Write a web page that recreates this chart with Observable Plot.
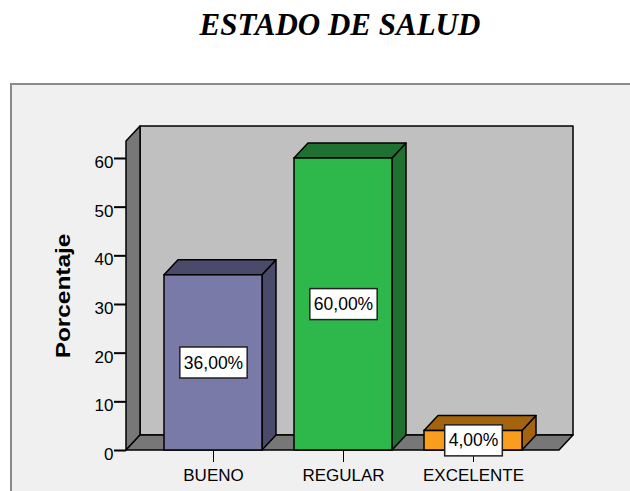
<!DOCTYPE html>
<html>
<head>
<meta charset="utf-8">
<script src="https://cdn.jsdelivr.net/npm/d3@7"></script>
<script src="https://cdn.jsdelivr.net/npm/@observablehq/plot@0.6"></script>
<style>
  html, body { margin: 0; padding: 0; background: #ffffff; }
  #title {
    box-sizing: border-box; height: 83px; padding-top: 9px; padding-left: 50px;
    text-align: center; font: italic bold 31px/31px "Liberation Serif", "Times New Roman", serif; color: #000;
  }
  #panel {
    margin-left: 10px; width: 618px; height: 406px; background: #f0f0f0;
    border-top: 2px solid #8a8a8a; border-left: 2px solid #8a8a8a; overflow: hidden;
  }
</style>
</head>
<body>
<div id="title">ESTADO DE SALUD</div>
<div id="panel"></div>
<script>
// ---- data ----
const categories = ["BUENO", "REGULAR", "EXCELENTE"];
const percentages = [36, 60, 4];
const yTicks = [0, 10, 20, 30, 40, 50, 60];
const axisTitle = "Porcentaje";

// ---- styles ----
const frontColors = ["#7a7aa8", "#2eb84c", "#f89d1e"];
const darkColors = ["#4a4a6a", "#1e7131", "#a4640f"];
const DX = 14, DY = -15;

const data = categories.map((c, i) => ({cat: c, value: percentages[i], i}));
const fmt = v => v.toFixed(2).replace(".", ",") + "%";

function poly(g, pts, fill) {
  g.append("path")
    .attr("d", "M" + pts.map(p => p.join(",")).join("L") + "Z")
    .attr("fill", fill).attr("stroke", "#000").attr("stroke-width", 1.5)
    .attr("stroke-linejoin", "round");
}

// walls and floor of the 3D box
function walls(index, scales, values, dims) {
  const y = scales.y;
  const g = d3.create("svg:g").attr("aria-label", "walls");
  const x0 = dims.marginLeft, x1 = dims.width - dims.marginRight;
  const yb = y(0), yt = dims.marginTop;
  poly(g, [[x0 + DX, yt + DY], [x1 + DX, yt + DY], [x1 + DX, yb + DY], [x0 + DX, yb + DY]], "#c0c0c0");
  poly(g, [[x0, yb], [x0, yt], [x0 + DX, yt + DY], [x0 + DX, yb + DY]], "#777777");
  poly(g, [[x0, yb], [x1, yb], [x1 + DX, yb + DY], [x0 + DX, yb + DY]], "#777777");
  return g.node();
}

// top and side faces of each bar
function barDepth(index, scales, values, dims) {
  const {x, y} = scales;
  const bw = x.bandwidth();
  const g = d3.create("svg:g").attr("aria-label", "bar depth");
  data.forEach(d => {
    const xl = x(d.cat), xr = xl + bw, yt = y(d.value), yb = y(0);
    poly(g, [[xr, yb], [xr, yt], [xr + DX, yt + DY], [xr + DX, yb + DY]], darkColors[d.i]);
    poly(g, [[xl, yt], [xr, yt], [xr + DX, yt + DY], [xl + DX, yt + DY]], darkColors[d.i]);
  });
  return g.node();
}

const chart = Plot.plot({
  width: 618,
  height: 406,
  marginTop: 56,
  marginBottom: 41,
  marginLeft: 114,
  marginRight: 71,
  style: {background: "transparent", fontFamily: "'Liberation Sans', Arial, sans-serif", fontSize: "17px", color: "#000", overflow: "visible"},
  x: {domain: categories, paddingInner: 0.249, paddingOuter: 0.2835, align: 0.5, label: null, tickSize: 12, tickPadding: 6},
  y: {domain: [0, 63.49], label: null},
  marks: [
    walls,
    barDepth,
    Plot.axisY({ticks: yTicks, tickSize: 12, tickFormat: () => "", label: null, stroke: "#000", strokeWidth: 2}),
    Plot.axisY({ticks: yTicks, tickSize: 0, tickPadding: 13, dy: 4, label: null, fontSize: 17, fill: "#000"}),
    Plot.barY(data, {x: "cat", y: "value", fill: d => frontColors[d.i], stroke: "#000", strokeWidth: 1.5, inset: 0}),
    Plot.text(data, {x: "cat", y: d => d.value / 2, text: d => fmt(d.value), fontSize: 17.5, fill: "#000"}),
    Plot.text([axisTitle], {frameAnchor: "left", rotate: -90, dx: -63, textAnchor: "middle", lineAnchor: "middle", fontWeight: "bold", fontSize: 20, fill: "#000"})
  ]
});

document.getElementById("panel").appendChild(chart);

const labelSet = new Set(data.map(d => fmt(d.value)));
d3.select(chart).selectAll("text").each(function () {
  const s = this.textContent.trim();
  if (labelSet.has(s)) {
    // white box behind each value label
    const b = this.getBBox();
    const cy = b.y + b.height / 2;
    const r = document.createElementNS("http://www.w3.org/2000/svg", "rect");
    r.setAttribute("x", b.x - 4);
    r.setAttribute("y", cy - 15.5);
    r.setAttribute("width", b.width + 8);
    r.setAttribute("height", 31);
    r.setAttribute("fill", "#fff");
    r.setAttribute("stroke", "#222");
    r.setAttribute("stroke-width", 1.5);
    const t = this.getAttribute("transform");
    if (t) r.setAttribute("transform", t);
    this.parentNode.insertBefore(r, this);
  } else if (s === axisTitle) {
    // the reference's axis title is stretched along its length
    this.setAttribute("transform", (this.getAttribute("transform") || "") + " scale(1.22,1)");
  }
});
</script>
</body>
</html>
